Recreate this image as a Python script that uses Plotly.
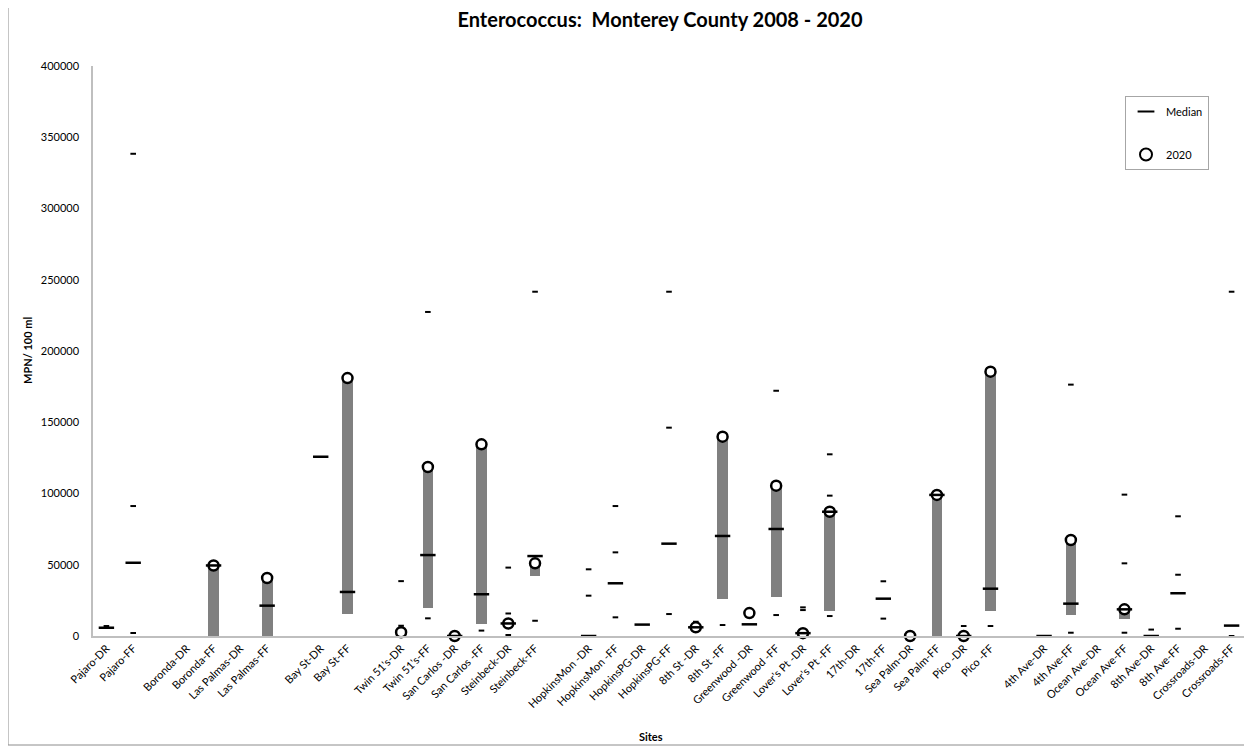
import plotly.graph_objects as go

# ---------------- data ----------------
sites = [
    "Pajaro-DR", "Pajaro-FF", "", "Boronda-DR", "Boronda-FF", "Las Palmas-DR", "Las Palmas-FF", "",
    "Bay St-DR", "Bay St-FF", "", "Twin 51's-DR", "Twin 51's-FF", "San Carlos -DR", "San Carlos -FF",
    "Steinbeck-DR", "Steinbeck-FF", "", "HopkinsMon -DR", "HopkinsMon -FF", "HopkinsPG-DR", "HopkinsPG-FF",
    "8th St -DR", "8th St -FF", "Greenwood -DR", "Greenwood -FF", "Lover's Pt -DR", "Lover's Pt -FF",
    "17th-DR", "17th-FF", "Sea Palm-DR", "Sea Palm-FF", "Pico -DR", "Pico -FF", "",
    "4th Ave-DR", "4th Ave-FF", "Ocean Ave-DR", "Ocean Ave-FF", "8th Ave-DR", "8th Ave-FF",
    "Crossroads-DR", "Crossroads-FF",
]

median = [
    5800, 51400, None, None, 49500, None, 21300, None,
    125800, 30900, None, None, 56800, 0, 29300,
    8800, 56100, None, 0, 37000, 8000, 64800,
    6100, 70200, 8200, 75100, 2000, 87200,
    None, 26200, None, 99000, 0, 33200, None,
    0, 22700, None, 18700, 0, 30000,
    None, 7300,
]

val_2020 = [
    None, None, None, None, 49500, None, 40700, None,
    None, 181000, None, 2600, 118600, 0, 134500,
    8800, 51000, None, None, None, None, None,
    6100, 139900, 16100, 105500, 2000, 87200,
    None, None, 0, 99000, 0, 185500, None,
    None, 67400, None, 18700, None, None,
    None, None,
]

bar_low = [
    None, None, None, None, 0, None, 0, None,
    None, 15400, None, None, 19900, None, 8400,
    None, 42300, None, None, None, None, None,
    None, 25700, None, 27600, None, 17800,
    None, None, None, 0, None, 17800, None,
    None, 14700, None, 11700, None, None,
    None, None,
]

bar_high = [
    None, None, None, None, 49500, None, 40700, None,
    None, 181000, None, None, 118600, None, 134500,
    None, 51000, None, None, None, None, None,
    None, 139900, None, 105500, None, 87200,
    None, None, None, 99000, None, 185500, None,
    None, 67400, None, 18700, None, None,
    None, None,
]

other_a = [
    7000, 338400, None, None, None, None, None, None,
    None, None, None, 38500, 227400, None, 3800,
    48000, 241600, None, 46800, 91200, None, 241600,
    10000, 7700, None, 172100, 20100, 127500,
    None, 38400, None, None, 7000, 7000, None,
    None, 176400, None, 99200, 4500, 84000,
    None, 241600,
]

other_b = [
    None, 91200, None, None, None, None, None, None,
    None, None, None, 7200, 12400, None, None,
    15800, 10700, None, 28300, 58700, None, 146200,
    None, None, None, 14700, 18200, 98500,
    None, 12200, None, None, None, None, None,
    None, 2300, None, 51000, None, 43000,
    None, 0,
]

other_c = [
    None, 2100, None, None, None, None, None, None,
    None, None, None, None, None, None, None,
    700, None, None, None, 13100, None, 15400,
    None, None, None, None, None, 14000,
    None, None, None, None, None, None, None,
    None, None, None, 2300, None, 5100,
    None, None,
]

y_ticks = [0, 50000, 100000, 150000, 200000, 250000, 300000, 350000, 400000]

# ---------------- figure ----------------
pos = list(range(len(sites)))
FONT = "Lato, 'Open Sans', sans-serif"

fig = go.Figure()

bx = [p for p, lo, hi in zip(pos, bar_low, bar_high) if lo is not None and hi is not None]
bb = [lo for lo, hi in zip(bar_low, bar_high) if lo is not None and hi is not None]
bh = [hi - lo for lo, hi in zip(bar_low, bar_high) if lo is not None and hi is not None]
fig.add_trace(go.Bar(x=bx, y=bh, base=bb, width=0.4, marker_color="#808080",
                     marker_line_width=0, showlegend=False, hoverinfo="skip"))

for series in (other_a, other_b, other_c):
    fig.add_trace(go.Scatter(
        x=pos, y=series, mode="markers", showlegend=False, cliponaxis=False,
        marker=dict(symbol="line-ew", size=4, line=dict(color="black", width=2)),
    ))

fig.add_trace(go.Scatter(
    x=pos, y=val_2020, mode="markers", name="2020", legendrank=2, legendgroup="b",
    cliponaxis=False,
    marker=dict(symbol="circle", size=10, color="white", line=dict(color="black", width=2.5)),
))

fig.add_trace(go.Scatter(
    x=pos, y=median, mode="markers", name="Median", legendrank=1, legendgroup="a",
    cliponaxis=False,
    marker=dict(symbol="line-ew", size=11, line=dict(color="black", width=2.5)),
))

# page offset (browser body margin)
OFF = 8
W, H = 1252 - OFF, 750 - OFF
L, T = 93 - OFF, 66 - OFF
R = W - (1245 - OFF)
B = H - (636 - OFF)
pw, ph = W - L - R, H - T - B


def px_x(px):
    return (px - OFF - L) / pw


def px_y(py):
    return (H - B - (py - OFF)) / ph


fig.update_layout(
    width=W, height=H,
    margin=dict(l=L, r=R, t=T, b=B),
    paper_bgcolor="white", plot_bgcolor="white",
    font=dict(family=FONT, size=11, color="#000000"),
    title=dict(text="Enterococcus:\u00a0 Monterey County 2008 - 2020",
               x=px_x(660), xref="paper", xanchor="center",
               y=1 - (20 - OFF) / H, yanchor="middle",
               font=dict(family=FONT, size=20, color="#000000", weight="bold")),
    xaxis=dict(range=[-0.5, len(sites) - 0.5],
               tickvals=[p for p, s in zip(pos, sites) if s],
               ticktext=[s for s in sites if s],
               tickangle=-45, showgrid=False, zeroline=False,
               showline=True, linecolor="#bfbfbf", linewidth=1.5, ticks="",
               tickfont=dict(size=11, color="#000000")),
    yaxis=dict(range=[0, 400000], tickvals=y_ticks, tickformat="d",
               showgrid=False, zeroline=False, showline=True,
               linecolor="#bfbfbf", linewidth=1.5, ticks="",
               ticklabelstandoff=10,
               tickfont=dict(size=11, color="#000000")),
    legend=dict(x=px_x(1125), y=px_y(96), xanchor="left", yanchor="top",
                bordercolor="#a6a6a6", borderwidth=1, bgcolor="white",
                font=dict(size=11), tracegroupgap=24, traceorder="grouped",
                itemsizing="constant"),
    showlegend=True,
    bargap=0,
    annotations=[
        dict(text="<b>Sites</b>", xref="paper", yref="paper", x=px_x(651), y=px_y(737),
             showarrow=False, xanchor="center", yanchor="middle", font=dict(size=11)),
        dict(text="<b>MPN/ 100 ml</b>", xref="paper", yref="paper", x=px_x(27), y=px_y(350),
             showarrow=False, textangle=-90, xanchor="center", yanchor="middle",
             font=dict(size=11)),
    ],
    shapes=[
        dict(type="rect", xref="paper", yref="paper",
             x0=px_x(8), x1=px_x(1249), y0=px_y(745), y1=px_y(7),
             line=dict(color="#8c8c8c", width=1), layer="below"),
    ],
)

fig.write_html("out.html")
